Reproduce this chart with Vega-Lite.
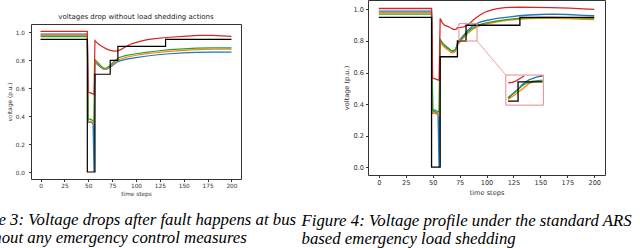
{
  "$schema": "https://vega.github.io/schema/vega-lite/v6.json",
  "background": "white",
  "padding": {"left": -40, "top": -1, "right": 0, "bottom": 0},
  "spacing": 4,
  "align": "none",
  "bounds": "full",
  "resolve": {"scale": {"x": "independent", "y": "independent"}},
  "config": {
    "view": {"stroke": "#333333", "strokeWidth": 1},
    "axis": {"domain": false, "grid": false, "tickColor": "#333333", "tickSize": 2.5, "labelColor": "#333333", "titleColor": "#333333", "labelFont": "DejaVu Sans", "titleFont": "DejaVu Sans", "titleFontWeight": "normal", "labelPadding": 2},
    "line": {"strokeWidth": 1.2}
  },
  "datasets": {
    "L": [
      {"s":"s1","t":0,"v":0.988},{"s":"s1","t":49,"v":0.988},{"s":"s1","t":50,"v":0.355},{"s":"s1","t":52,"v":0.36},{"s":"s1","t":54,"v":0.352},{"s":"s1","t":55,"v":0.345},{"s":"s1","t":56,"v":0},{"s":"s1","t":57,"v":0.785},{"s":"s1","t":60,"v":0.768},{"s":"s1","t":63,"v":0.75},{"s":"s1","t":66,"v":0.737},{"s":"s1","t":68,"v":0.735},{"s":"s1","t":70,"v":0.738},{"s":"s1","t":73,"v":0.75},{"s":"s1","t":76,"v":0.767},{"s":"s1","t":79,"v":0.782},{"s":"s1","t":83,"v":0.796},{"s":"s1","t":90,"v":0.808},{"s":"s1","t":100,"v":0.819},{"s":"s1","t":110,"v":0.829},{"s":"s1","t":120,"v":0.838},{"s":"s1","t":135,"v":0.847},{"s":"s1","t":150,"v":0.853},{"s":"s1","t":163,"v":0.857},{"s":"s1","t":180,"v":0.859},{"s":"s1","t":200,"v":0.859},
      {"s":"s2","t":0,"v":0.979},{"s":"s2","t":49,"v":0.979},{"s":"s2","t":50,"v":0.36},{"s":"s2","t":52,"v":0.365},{"s":"s2","t":54,"v":0.358},{"s":"s2","t":56,"v":0.35},{"s":"s2","t":57,"v":0.795},{"s":"s2","t":60,"v":0.775},{"s":"s2","t":63,"v":0.755},{"s":"s2","t":66,"v":0.738},{"s":"s2","t":68,"v":0.735},{"s":"s2","t":70,"v":0.74},{"s":"s2","t":73,"v":0.757},{"s":"s2","t":76,"v":0.775},{"s":"s2","t":79,"v":0.792},{"s":"s2","t":83,"v":0.808},{"s":"s2","t":90,"v":0.822},{"s":"s2","t":100,"v":0.836},{"s":"s2","t":110,"v":0.846},{"s":"s2","t":120,"v":0.854},{"s":"s2","t":135,"v":0.864},{"s":"s2","t":150,"v":0.871},{"s":"s2","t":163,"v":0.876},{"s":"s2","t":180,"v":0.879},{"s":"s2","t":200,"v":0.88},
      {"s":"s3","t":0,"v":0.97},{"s":"s3","t":49,"v":0.97},{"s":"s3","t":50,"v":0.375},{"s":"s3","t":52,"v":0.38},{"s":"s3","t":54,"v":0.372},{"s":"s3","t":56,"v":0.36},{"s":"s3","t":57,"v":0.805},{"s":"s3","t":60,"v":0.785},{"s":"s3","t":63,"v":0.762},{"s":"s3","t":66,"v":0.745},{"s":"s3","t":68,"v":0.742},{"s":"s3","t":70,"v":0.748},{"s":"s3","t":73,"v":0.765},{"s":"s3","t":76,"v":0.785},{"s":"s3","t":79,"v":0.805},{"s":"s3","t":83,"v":0.822},{"s":"s3","t":90,"v":0.835},{"s":"s3","t":100,"v":0.847},{"s":"s3","t":110,"v":0.857},{"s":"s3","t":120,"v":0.865},{"s":"s3","t":135,"v":0.876},{"s":"s3","t":150,"v":0.882},{"s":"s3","t":163,"v":0.887},{"s":"s3","t":180,"v":0.889},{"s":"s3","t":200,"v":0.889},
      {"s":"s4","t":0,"v":1.007},{"s":"s4","t":49,"v":1.007},{"s":"s4","t":50,"v":0.572},{"s":"s4","t":53,"v":0.565},{"s":"s4","t":56,"v":0.555},{"s":"s4","t":57,"v":0.942},{"s":"s4","t":60,"v":0.92},{"s":"s4","t":64,"v":0.9},{"s":"s4","t":69,"v":0.882},{"s":"s4","t":73,"v":0.871},{"s":"s4","t":77,"v":0.866},{"s":"s4","t":81,"v":0.868},{"s":"s4","t":85,"v":0.88},{"s":"s4","t":90,"v":0.9},{"s":"s4","t":96,"v":0.92},{"s":"s4","t":104,"v":0.935},{"s":"s4","t":112,"v":0.948},{"s":"s4","t":120,"v":0.955},{"s":"s4","t":135,"v":0.965},{"s":"s4","t":150,"v":0.972},{"s":"s4","t":165,"v":0.979},{"s":"s4","t":180,"v":0.978},{"s":"s4","t":200,"v":0.972}
    ],
    "R": [
      {"s":"s1","t":0,"v":0.99},{"s":"s1","t":49,"v":0.99},{"s":"s1","t":50,"v":0.35},{"s":"s1","t":52,"v":0.352},{"s":"s1","t":54,"v":0.345},{"s":"s1","t":55,"v":0.34},{"s":"s1","t":56,"v":0},{"s":"s1","t":57,"v":0.805},{"s":"s1","t":59,"v":0.785},{"s":"s1","t":61,"v":0.77},{"s":"s1","t":63,"v":0.76},{"s":"s1","t":65,"v":0.75},{"s":"s1","t":67,"v":0.738},{"s":"s1","t":69,"v":0.735},{"s":"s1","t":71,"v":0.742},{"s":"s1","t":72,"v":0.76},{"s":"s1","t":73,"v":0.785},{"s":"s1","t":75,"v":0.805},{"s":"s1","t":77,"v":0.822},{"s":"s1","t":79,"v":0.838},{"s":"s1","t":81,"v":0.855},{"s":"s1","t":83,"v":0.87},{"s":"s1","t":85,"v":0.883},{"s":"s1","t":87,"v":0.895},{"s":"s1","t":90,"v":0.908},{"s":"s1","t":93,"v":0.917},{"s":"s1","t":96,"v":0.924},{"s":"s1","t":100,"v":0.93},{"s":"s1","t":105,"v":0.937},{"s":"s1","t":110,"v":0.943},{"s":"s1","t":120,"v":0.952},{"s":"s1","t":130,"v":0.96},{"s":"s1","t":140,"v":0.965},{"s":"s1","t":150,"v":0.968},{"s":"s1","t":160,"v":0.97},{"s":"s1","t":175,"v":0.968},{"s":"s1","t":190,"v":0.963},{"s":"s1","t":200,"v":0.96},
      {"s":"s2","t":0,"v":0.98},{"s":"s2","t":49,"v":0.98},{"s":"s2","t":50,"v":0.34},{"s":"s2","t":52,"v":0.342},{"s":"s2","t":54,"v":0.335},{"s":"s2","t":56,"v":0.33},{"s":"s2","t":57,"v":0.795},{"s":"s2","t":59,"v":0.775},{"s":"s2","t":61,"v":0.76},{"s":"s2","t":63,"v":0.75},{"s":"s2","t":65,"v":0.74},{"s":"s2","t":67,"v":0.728},{"s":"s2","t":69,"v":0.725},{"s":"s2","t":71,"v":0.733},{"s":"s2","t":72,"v":0.75},{"s":"s2","t":73,"v":0.772},{"s":"s2","t":75,"v":0.79},{"s":"s2","t":77,"v":0.807},{"s":"s2","t":79,"v":0.822},{"s":"s2","t":81,"v":0.837},{"s":"s2","t":83,"v":0.85},{"s":"s2","t":85,"v":0.862},{"s":"s2","t":87,"v":0.873},{"s":"s2","t":90,"v":0.885},{"s":"s2","t":93,"v":0.895},{"s":"s2","t":96,"v":0.902},{"s":"s2","t":100,"v":0.908},{"s":"s2","t":110,"v":0.922},{"s":"s2","t":120,"v":0.932},{"s":"s2","t":130,"v":0.938},{"s":"s2","t":140,"v":0.942},{"s":"s2","t":150,"v":0.944},{"s":"s2","t":160,"v":0.944},{"s":"s2","t":175,"v":0.942},{"s":"s2","t":190,"v":0.938},{"s":"s2","t":200,"v":0.936},
      {"s":"s3","t":0,"v":0.97},{"s":"s3","t":49,"v":0.97},{"s":"s3","t":50,"v":0.36},{"s":"s3","t":52,"v":0.362},{"s":"s3","t":54,"v":0.355},{"s":"s3","t":56,"v":0.35},{"s":"s3","t":57,"v":0.81},{"s":"s3","t":59,"v":0.79},{"s":"s3","t":61,"v":0.775},{"s":"s3","t":63,"v":0.763},{"s":"s3","t":65,"v":0.752},{"s":"s3","t":67,"v":0.74},{"s":"s3","t":69,"v":0.737},{"s":"s3","t":71,"v":0.745},{"s":"s3","t":72,"v":0.758},{"s":"s3","t":73,"v":0.78},{"s":"s3","t":75,"v":0.8},{"s":"s3","t":77,"v":0.815},{"s":"s3","t":79,"v":0.83},{"s":"s3","t":81,"v":0.845},{"s":"s3","t":83,"v":0.86},{"s":"s3","t":85,"v":0.872},{"s":"s3","t":87,"v":0.882},{"s":"s3","t":90,"v":0.893},{"s":"s3","t":93,"v":0.902},{"s":"s3","t":96,"v":0.908},{"s":"s3","t":100,"v":0.915},{"s":"s3","t":110,"v":0.928},{"s":"s3","t":120,"v":0.937},{"s":"s3","t":130,"v":0.943},{"s":"s3","t":140,"v":0.947},{"s":"s3","t":150,"v":0.949},{"s":"s3","t":160,"v":0.95},{"s":"s3","t":175,"v":0.948},{"s":"s3","t":190,"v":0.945},{"s":"s3","t":200,"v":0.943},
      {"s":"s4","t":0,"v":1.006},{"s":"s4","t":49,"v":1.006},{"s":"s4","t":50,"v":0.565},{"s":"s4","t":53,"v":0.558},{"s":"s4","t":56,"v":0.55},{"s":"s4","t":57,"v":0.943},{"s":"s4","t":59,"v":0.915},{"s":"s4","t":61,"v":0.9},{"s":"s4","t":65,"v":0.89},{"s":"s4","t":68,"v":0.878},{"s":"s4","t":70,"v":0.872},{"s":"s4","t":72,"v":0.875},{"s":"s4","t":73,"v":0.885},{"s":"s4","t":76,"v":0.886},{"s":"s4","t":79,"v":0.89},{"s":"s4","t":82,"v":0.9},{"s":"s4","t":85,"v":0.915},{"s":"s4","t":88,"v":0.935},{"s":"s4","t":91,"v":0.95},{"s":"s4","t":95,"v":0.97},{"s":"s4","t":100,"v":0.987},{"s":"s4","t":105,"v":0.997},{"s":"s4","t":110,"v":1.005},{"s":"s4","t":117,"v":1.012},{"s":"s4","t":130,"v":1.015},{"s":"s4","t":145,"v":1.013},{"s":"s4","t":160,"v":1.012},{"s":"s4","t":177,"v":1.008},{"s":"s4","t":190,"v":1.004},{"s":"s4","t":200,"v":1.0}
    ],
    "K": [
      {"t":0,"v":0.95},{"t":49,"v":0},{"t":57,"v":0.7},{"t":73,"v":0.8},{"t":81,"v":0.9},{"t":131,"v":0.95},{"t":200,"v":0.95}
    ],
    "I": [
      {"s":"s1","t":120,"v":0.435},{"s":"s1","t":125,"v":0.468},{"s":"s1","t":130,"v":0.499},{"s":"s1","t":133,"v":0.522},{"s":"s1","t":136.4,"v":0.541},{"s":"s1","t":139.5,"v":0.553},{"s":"s1","t":142.6,"v":0.562},{"s":"s1","t":147,"v":0.572},{"s":"s1","t":152,"v":0.578},
      {"s":"s2","t":120,"v":0.429},{"s":"s2","t":125,"v":0.453},{"s":"s2","t":130,"v":0.478},{"s":"s2","t":135,"v":0.505},{"s":"s2","t":139.5,"v":0.531},{"s":"s2","t":145,"v":0.542},{"s":"s2","t":152,"v":0.548},
      {"s":"s3","t":120,"v":0.441},{"s":"s3","t":124,"v":0.463},{"s":"s3","t":128.7,"v":0.488},{"s":"s3","t":132,"v":0.51},{"s":"s3","t":136.4,"v":0.531},{"s":"s3","t":142,"v":0.543},{"s":"s3","t":152,"v":0.552},
      {"s":"s4","t":120.3,"v":0.535},{"s":"s4","t":124,"v":0.537},{"s":"s4","t":127,"v":0.545},{"s":"s4","t":131,"v":0.562},{"s":"s4","t":135,"v":0.578}
    ],
    "IK": [
      {"t":120,"v":0.418},{"t":129.3,"v":0.541},{"t":152,"v":0.541}
    ],
    "B": [
      {"t1":74.4,"t2":91.2,"v1":0.8,"v2":0.91},
      {"t1":117.9,"t2":152.8,"v1":0.393,"v2":0.584}
    ],
    "C": [
      {"t1":91.2,"v1":0.8,"t2":117.9,"v2":0.584}
    ],
    "E": []
  },
  "hconcat": [
    {
      "title": {
        "text": ["Figure 3: Voltage drops after fault happens at bus", "\u2800without any emergency control measures"],
        "orient": "bottom", "anchor": "start", "frame": "bounds",
        "font": "Liberation Serif", "fontStyle": "italic", "fontWeight": "normal", "fontSize": 16.8, "lineHeight": 18,
        "color": "black", "offset": 15, "dx": -45
      },
      "spacing": 0,
      "vconcat": [
        {
          "width": 210,
          "height": 4,
          "view": {"stroke": null},
          "data": {"name": "E"},
          "mark": {"type": "rule"},
          "encoding": {}
        },
        {
          "title": {"text": ["", "voltages drop without load shedding actions"], "fontSize": 7, "lineHeight": 8, "offset": 4, "font": "DejaVu Sans", "fontWeight": "normal", "anchor": "middle", "color": "#222222"},
          "width": 210,
          "height": 155,
          "encoding": {
            "x": {"field": "t", "type": "quantitative", "scale": {"domain": [-10, 210], "nice": false, "zero": false}, "axis": {"values": [0,25,50,75,100,125,150,175,200], "title": "time steps", "labelFontSize": 5.8, "titleFontSize": 5.8, "titlePadding": 2, "labelPadding": 1}},
            "y": {"field": "v", "type": "quantitative", "scale": {"domain": [-0.05, 1.06], "nice": false, "zero": false}, "axis": {"values": [0,0.2,0.4,0.6,0.8,1.0], "format": ".1f", "title": "voltage (p.u.)", "labelFontSize": 5.8, "titleFontSize": 5.8, "titlePadding": 3, "labelPadding": 4}}
          },
          "layer": [
            {
              "data": {"name": "L"},
              "mark": {"type": "line", "strokeWidth": 1.2},
              "encoding": {"color": {"field": "s", "type": "nominal", "scale": {"domain": ["s1","s2","s3","s4"], "range": ["#1f77b4","#ff7f0e","#2ca02c","#d62728"]}, "legend": null}}
            },
            {
              "data": {"name": "K"},
              "mark": {"type": "line", "interpolate": "step-after", "color": "black", "strokeWidth": 1.2},
              "encoding": {}
            }
          ]
        }
      ]
    },
    {
      "title": {
        "text": ["Figure 4: Voltage profile under the standard ARS", "based emergency load shedding"],
        "orient": "bottom", "anchor": "start", "frame": "bounds",
        "font": "Liberation Serif", "fontStyle": "italic", "fontWeight": "normal", "fontSize": 16.8, "lineHeight": 18,
        "color": "black", "offset": 17, "dx": -41
      },
      "vconcat": [
        {
          "width": 237,
          "height": 175,
          "encoding": {
            "x": {"field": "t", "type": "quantitative", "scale": {"domain": [-10, 210], "nice": false, "zero": false}, "axis": {"values": [0,25,50,75,100,125,150,175,200], "title": "time steps", "labelFontSize": 6.6, "titleFontSize": 6.6, "titlePadding": 3}},
            "y": {"field": "v", "type": "quantitative", "scale": {"domain": [-0.05, 1.06], "nice": false, "zero": false}, "axis": {"values": [0,0.2,0.4,0.6,0.8,1.0], "format": ".1f", "title": "voltage (p.u.)", "labelFontSize": 6.6, "titleFontSize": 6.6, "titlePadding": 4}}
          },
          "layer": [
            {
              "data": {"name": "R"},
              "mark": {"type": "line", "strokeWidth": 1.3},
              "encoding": {"color": {"field": "s", "type": "nominal", "scale": {"domain": ["s1","s2","s3","s4"], "range": ["#1f77b4","#ff7f0e","#2ca02c","#d62728"]}, "legend": null}}
            },
            {
              "data": {"name": "K"},
              "mark": {"type": "line", "interpolate": "step-after", "color": "black", "strokeWidth": 1.3},
              "encoding": {}
            },
            {
              "data": {"name": "B"},
              "mark": {"type": "rect", "fill": null, "fillOpacity": 0, "stroke": "#ee8888", "strokeWidth": 1},
              "encoding": {"x": {"field": "t1", "type": "quantitative"}, "x2": {"field": "t2"}, "y": {"field": "v1", "type": "quantitative"}, "y2": {"field": "v2"}}
            },
            {
              "data": {"name": "C"},
              "mark": {"type": "rule", "stroke": "#ee8888", "strokeWidth": 0.8},
              "encoding": {"x": {"field": "t1", "type": "quantitative"}, "x2": {"field": "t2"}, "y": {"field": "v1", "type": "quantitative"}, "y2": {"field": "v2"}}
            },
            {
              "data": {"name": "I"},
              "mark": {"type": "line", "strokeWidth": 1.3},
              "encoding": {"color": {"field": "s", "type": "nominal", "scale": {"domain": ["s1","s2","s3","s4"], "range": ["#1f77b4","#ff7f0e","#2ca02c","#d62728"]}, "legend": null}}
            },
            {
              "data": {"name": "IK"},
              "mark": {"type": "line", "interpolate": "step-after", "color": "black", "strokeWidth": 1.3},
              "encoding": {}
            }
          ]
        }
      ]
    }
  ]
}
